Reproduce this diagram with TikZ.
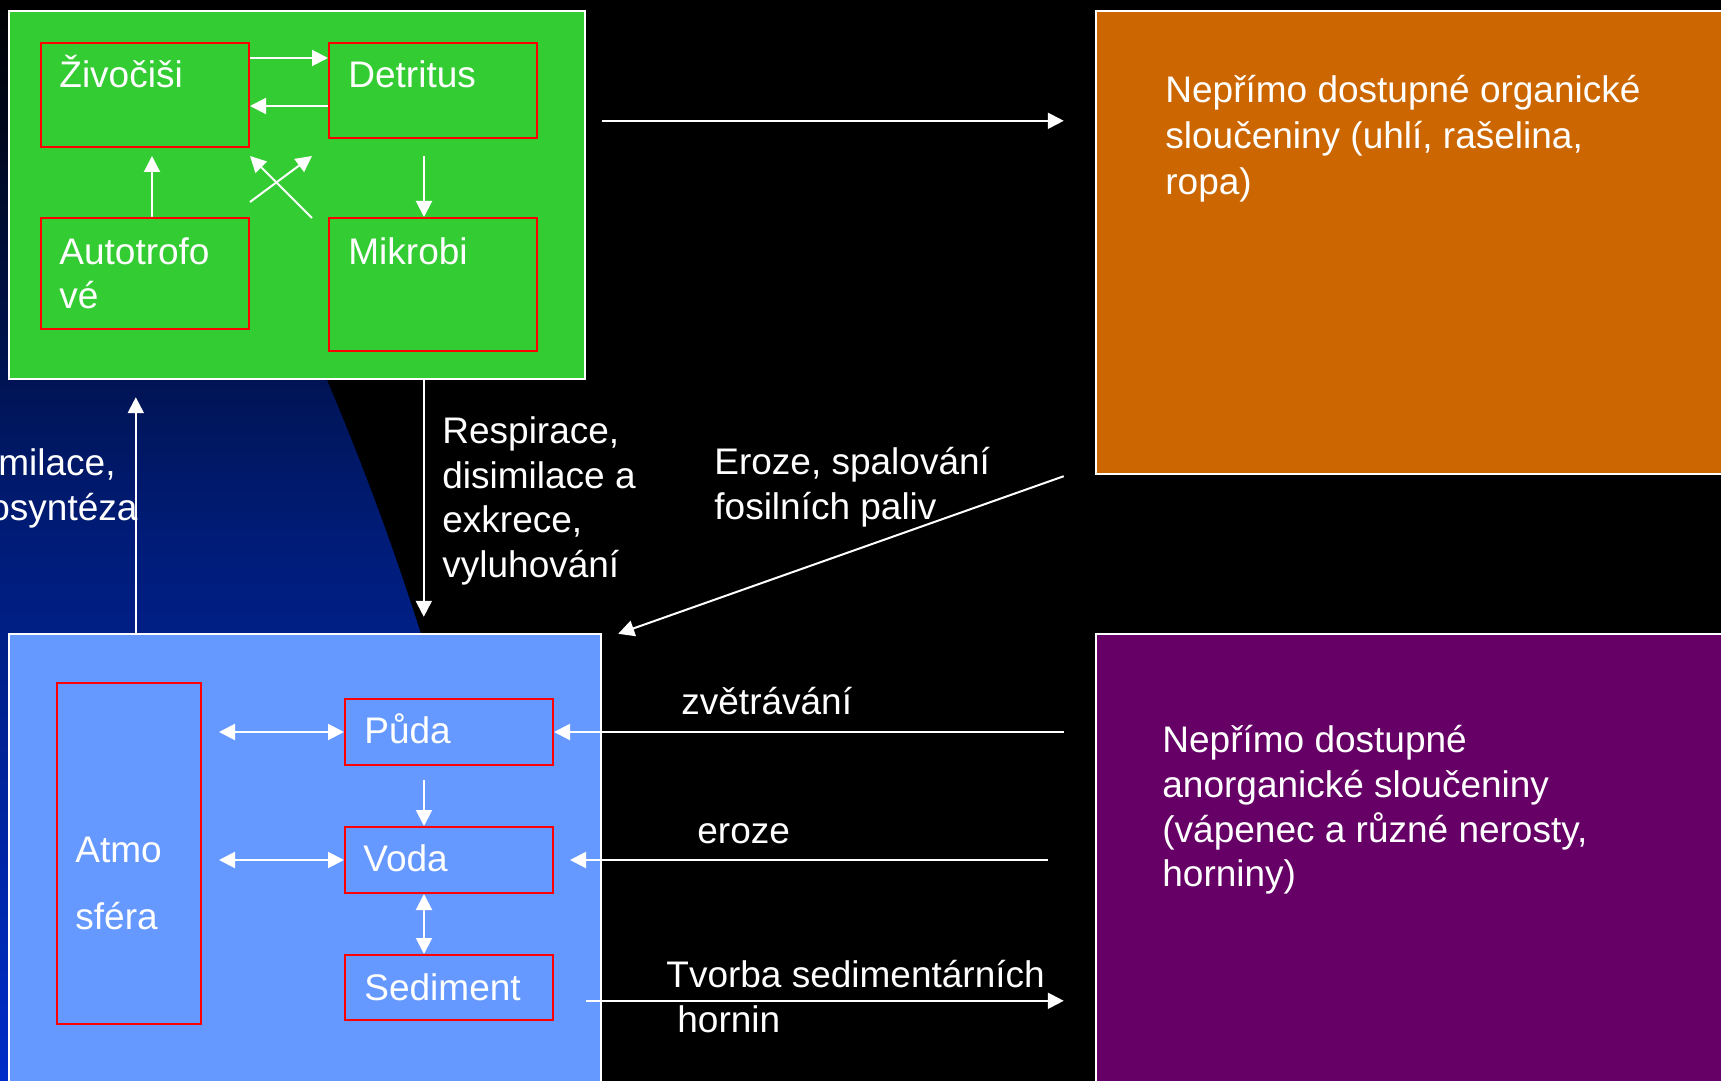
\documentclass[tikz,border=0pt]{standalone}
\usepackage{fontspec}
\setmainfont{Liberation Sans}
\usetikzlibrary{arrows.meta,calc,fit}
\definecolor{ggreen}{RGB}{51,204,51}
\definecolor{lblue}{RGB}{102,153,255}
\definecolor{orng}{RGB}{204,102,0}
\definecolor{purp}{RGB}{102,0,102}
\definecolor{bgmid}{RGB}{0,28,120}
\definecolor{bgbot}{RGB}{0,45,200}
\begin{document}
\begin{tikzpicture}[x=0.5pt,y=-0.5pt,
  bigbox/.style={draw=white, line width=1.2pt, inner sep=0pt},
  redbox/.style={draw=red, line width=1pt, inner sep=0pt},
  txt/.style={text=white, font=\fontsize{18.5}{22}\selectfont, inner sep=0pt, anchor=base west},
  arr/.style={draw=white, line width=1pt, -{Triangle[length=8pt,width=8pt]}},
  darr/.style={draw=white, line width=1pt, {Triangle[length=8pt,width=8pt]}-{Triangle[length=8pt,width=8pt]}},
]
\useasboundingbox (0,0) rectangle (1721,1081);
\clip (0,0) rectangle (1721,1081);
\fill[black] (0,0) rectangle (1721,1081);
\shade[top color=black, bottom color=bgbot, middle color=bgmid] (0,0) -- (167,0) -- (327,380) .. controls (363,465) and (394,549) .. (421,634) -- (564,1081) -- (0,1081) -- cycle;

% big boxes
\node[bigbox, fill=ggreen, fit={(9,11) (585,379)}] (green) {};
\node[bigbox, fill=lblue, fit={(9,634) (601,1095)}] (blue) {};
\node[bigbox, fill=orng, fit={(1096,11) (1735,474)}] (orange) {};
\node[bigbox, fill=purp, fit={(1096,634) (1735,1095)}] (purple) {};

% red boxes
\node[redbox, fit={(41,43) (249,147)}] (ziv) {};
\node[redbox, fit={(329,43) (537,138)}] (det) {};
\node[redbox, fit={(41,218) (249,329)}] (aut) {};
\node[redbox, fit={(329,218) (537,351)}] (mik) {};
\node[redbox, fit={(57,683) (201,1024)}] (atm) {};
\node[redbox, fit={(345,699) (553,765)}] (puda) {};
\node[redbox, fit={(345,827) (553,893)}] (voda) {};
\node[redbox, fit={(345,955) (553,1020)}] (sed) {};

% box labels
\node[txt] (tziv) at ($(ziv.north west)+(19,46)$) {Živočiši};
\node[txt] (tdet) at ($(det.north west)+(20,46)$) {Detritus};
\node[txt] (taut1) at ($(aut.north west)+(19,47)$) {Autotrofo};
\node[txt] (taut2) at ($(aut.north west)+(19,91)$) {vé};
\node[txt] (tmik) at ($(mik.north west)+(20,47)$) {Mikrobi};
\node[txt] (tatm1) at ($(atm.north west)+(19,180)$) {Atmo};
\node[txt] (tatm2) at ($(atm.north west)+(19,247)$) {sféra};
\node[txt] (tpuda) at ($(puda.north west)+(20,45)$) {Půda};
\node[txt] (tvoda) at ($(voda.north west)+(19,45)$) {Voda};
\node[txt] (tsed) at ($(sed.north west)+(20,46)$) {Sediment};

% free labels
\node[txt] (as1) at (-2,475) {milace,};
\node[txt] (as2) at (-11,520) {osyntéza};
\node[txt] (r1) at (442,443) {Respirace,};
\node[txt] (r2) at (442,488) {disimilace a};
\node[txt] (r3) at (442,532) {exkrece,};
\node[txt] (r4) at (442,577) {vyluhování};
\node[txt] (e1) at (714,474) {Eroze, spalování};
\node[txt] (e2) at (714,519) {fosilních paliv};
\node[txt] (zv) at (681,714) {zvětrávání};
\node[txt] (er) at (697,843) {eroze};
\node[txt] (tv1) at (666,987) {Tvorba sedimentárních};
\node[txt] (tv2) at (677,1032) {hornin};
\node[txt] (o1) at (1165,103) {Nepřímo dostupné organické};
\node[txt] (o2) at (1165,149) {sloučeniny (uhlí, rašelina,};
\node[txt] (o3) at (1165,195) {ropa)};
\node[txt] (p1) at (1162,752) {Nepřímo dostupné};
\node[txt] (p2) at (1162,797) {anorganické sloučeniny};
\node[txt] (p3) at (1162,842) {(vápenec a různé nerosty,};
\node[txt] (p4) at (1162,886) {horniny)};

% arrows in green box
\draw[arr] ($(ziv.north east)+(0,16)$) -- ($(det.north west)+(0,16)$);
\draw[arr] ($(det.north west)+(0,64)$) -- ($(ziv.north east)+(0,64)$);
\draw[arr] ($(aut.north west)+(112,0)$) -- ($(ziv.south west)+(112,8)$);
\draw[arr] ($(det.south west)+(96,17)$) -- ($(mik.north west)+(96,0)$);
\draw[arr] ($(aut.north east)+(0,-15)$) -- ($(det.south west)+(-16,17)$);
\draw[arr] ($(mik.north west)+(-16,1)$) -- ($(ziv.south east)+(0,8)$);

% arrows between big boxes
\draw[arr] ($(blue.north west)+(128,0)$) -- ($(green.south west)+(128,17)$);
\draw[arr] ($(green.south west)+(416,0)$) -- ($(blue.north west)+(416,-16)$);
\draw[arr] ($(green.north east)+(16,111)$) -- ($(orange.north west)+(-31,111)$);
\draw[arr] ($(orange.south west)+(-31,1)$) -- ($(blue.north east)+(16,1)$);
\draw[arr] ($(puda.east -| purple.west)+(-31,0)$) -- (puda.east);
\draw[arr] ($(voda.east -| purple.west)+(-47,0)$) -- ($(voda.east)+(16,0)$);
\draw[arr] ($(blue.north east)+(-16,368)$) -- ($(purple.north west)+(-31,368)$);

% arrows in blue box
\draw[darr] ($(puda.west -| atm.east)+(17,0)$) -- (puda.west);
\draw[darr] ($(voda.west -| atm.east)+(17,0)$) -- (voda.west);
\draw[arr] ($(puda.south west)+(80,14)$) -- ($(voda.north west)+(80,0)$);
\draw[darr] ($(voda.south west)+(80,0)$) -- ($(sed.north west)+(80,0)$);
\end{tikzpicture}
\end{document}
